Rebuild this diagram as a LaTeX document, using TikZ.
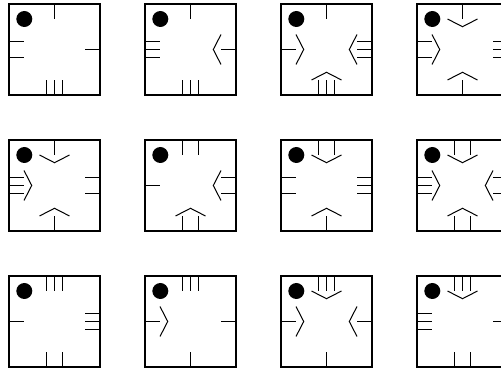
\documentclass[tikz,border=0pt]{standalone}
\usepackage{tikz}

% eine Seite der Kachel: #1 Drehwinkel, #2 Anzahl Striche, #3 Pfeil (1 = ja)
\newcommand{\seite}[3]{%
  \begin{scope}[rotate=#1]
    \ifcase#2\or
      \draw[strich] (0,-45.5) -- (0,-30.5);
    \or
      \draw[strich] (-7.7,-45.5) -- (-7.7,-30.5);
      \draw[strich] (7.7,-45.5) -- (7.7,-30.5);
    \or
      \draw[strich] (-7.7,-45.5) -- (-7.7,-30.5);
      \draw[strich] (0,-45.5) -- (0,-30.5);
      \draw[strich] (7.7,-45.5) -- (7.7,-30.5);
    \fi
    \ifnum#3=1 \draw[pfeil] (-15,-30.5) -- (0,-22.8) -- (15,-30.5);\fi
  \end{scope}}

% Kachel: Rahmen und Punkt
\newcommand{\kachel}{%
  \draw[rahmen] (-45.5,-45.5) rectangle (45.5,45.5);
  \fill (-30.2,30.5) circle (8pt);}

\tikzset{
  rahmen/.style={line width=1.1pt},
  strich/.style={line width=1.1pt},
  pfeil/.style={line width=1pt},
}

\begin{document}
\begin{tikzpicture}[x=1pt,y=1pt]
  \clip (0,0) rectangle (501,-371);
  % erste Reihe:
  \begin{scope}[shift={(54.5,-49.5)}] % erste Kachel
    \kachel
    \seite{0}{3}{0} \seite{90}{1}{0} \seite{180}{1}{0} \seite{270}{2}{0}
  \end{scope}
  \begin{scope}[shift={(190.5,-49.5)}] % zweite Kachel
    \kachel
    \seite{0}{3}{0} \seite{90}{1}{1} \seite{180}{1}{0} \seite{270}{3}{0}
  \end{scope}
  \begin{scope}[shift={(326.5,-49.5)}] % dritte Kachel
    \kachel
    \seite{0}{3}{1} \seite{90}{3}{1} \seite{180}{1}{0} \seite{270}{1}{1}
  \end{scope}
  \begin{scope}[shift={(462.5,-49.5)}] % vierte Kachel
    \kachel
    \seite{0}{1}{1} \seite{90}{3}{0} \seite{180}{1}{1} \seite{270}{2}{1}
  \end{scope}
  % zweite Reihe:
  \begin{scope}[shift={(54.5,-185.5)}]
    \kachel
    \seite{0}{1}{1} \seite{90}{2}{0} \seite{180}{1}{1} \seite{270}{3}{1}
  \end{scope}
  \begin{scope}[shift={(190.5,-185.5)}]
    \kachel
    \seite{0}{2}{1} \seite{90}{2}{1} \seite{180}{2}{0} \seite{270}{1}{0}
  \end{scope}
  \begin{scope}[shift={(326.5,-185.5)}]
    \kachel
    \seite{0}{1}{1} \seite{90}{3}{0} \seite{180}{2}{1} \seite{270}{2}{0}
  \end{scope}
  \begin{scope}[shift={(462.5,-185.5)}]
    \kachel
    \seite{0}{2}{1} \seite{90}{2}{1} \seite{180}{2}{1} \seite{270}{3}{1}
  \end{scope}
  % dritte Reihe:
  \begin{scope}[shift={(54.5,-321.5)}]
    \kachel
    \seite{0}{2}{0} \seite{90}{3}{0} \seite{180}{3}{0} \seite{270}{1}{0}
  \end{scope}
  \begin{scope}[shift={(190.5,-321.5)}]
    \kachel
    \seite{0}{1}{0} \seite{90}{1}{0} \seite{180}{3}{0} \seite{270}{1}{1}
  \end{scope}
  \begin{scope}[shift={(326.5,-321.5)}]
    \kachel
    \seite{0}{1}{0} \seite{90}{1}{1} \seite{180}{3}{1} \seite{270}{1}{1}
  \end{scope}
  \begin{scope}[shift={(462.5,-321.5)}]
    \kachel
    \seite{0}{2}{0} \seite{90}{1}{0} \seite{180}{3}{1} \seite{270}{3}{0}
  \end{scope}
\end{tikzpicture}
\end{document}
